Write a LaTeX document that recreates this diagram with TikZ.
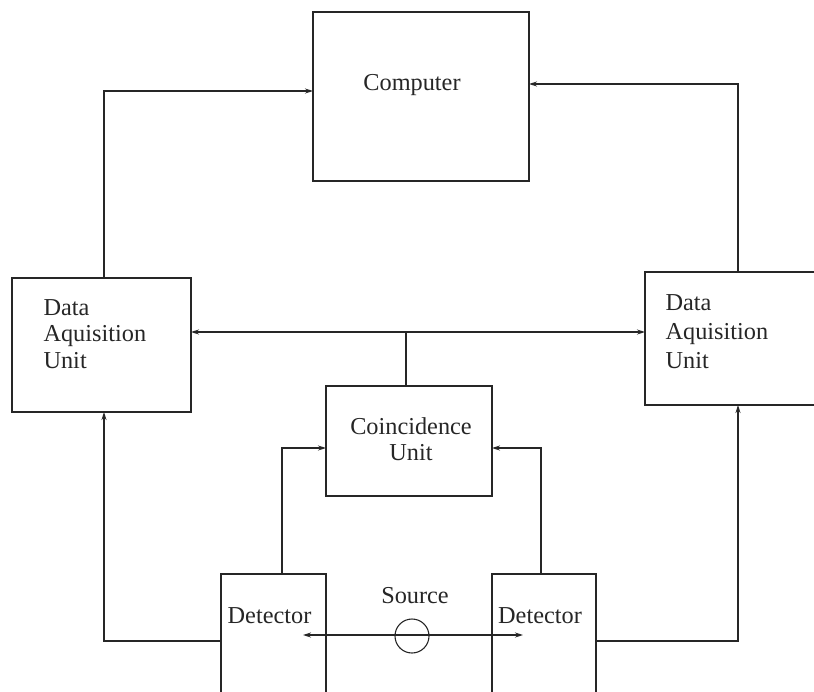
\documentclass[tikz,border=0pt]{standalone}
\usepackage{fontspec}
\setmainfont{Liberation Serif}
\usetikzlibrary{arrows.meta}

\begin{document}
\begin{tikzpicture}[x=1pt,y=-1pt,>={Stealth[length=8pt,width=5pt]},line width=1.1pt,color=black!85,
    box/.style={draw,rectangle,inner sep=0pt,outer sep=0pt},
    lbl/.style={inner sep=0pt,font=\fontsize{24.3}{26.5}\selectfont}]
        \clip (0,0) rectangle (814,691);

        % boxes
        \node[box,minimum width=216pt,minimum height=169pt] (comp)  at (421,96.5) {};
        \node[box,minimum width=179pt,minimum height=134pt] (dauL)  at (101.5,345) {};
        \node[box,minimum width=186pt,minimum height=133pt] (dauR)  at (738,338.5) {};
        \node[box,minimum width=166pt,minimum height=110pt] (coinc) at (409,441) {};
        \node[box,minimum width=105pt,minimum height=146pt] (detL)  at (273.5,647) {};
        \node[box,minimum width=104pt,minimum height=146pt] (detR)  at (544,647) {};
        \node[circle,draw,inner sep=0pt,minimum size=34pt] (src) at (412,636) {};

        % texts (base = last line)
        \node[lbl,anchor=base] (compt) at (412,90) {Computer};
        \node[lbl,anchor=base west,align=left] (dauLt) at (43,368) {Data\\Aquisition\\Unit};
        \node[lbl,anchor=base west,align=left,font=\fontsize{24.3}{29}\selectfont] (dauRt) at (665,368) {Data\\Aquisition\\Unit};
        \node[lbl,anchor=base,align=center,font=\fontsize{24.3}{26}\selectfont] (coinct) at (411,460) {Coincidence\\Unit};
        \node[lbl,anchor=base] (detLt) at (269.5,623) {Detector};
        \node[lbl,anchor=base] (detRt) at (540,623) {Detector};
        \node[lbl,anchor=base] (srct) at (415,603) {Source};

        \coordinate (bus) at (406,332);
        \coordinate (beamL) at (303,635);
        \coordinate (beamR) at (523,635);

        % connectors
        \draw[->] ([xshift=2.5pt]dauL.north) |- ([yshift=5.5pt]comp.west);
        \draw[->] (dauR.north) |- ([yshift=12.5pt]comp.east);
        \draw[<->] (dauL.east |- bus) -- (dauR.west |- bus);
        \draw (bus) -- (bus |- coinc.north);
        \draw[->] ([xshift=8.5pt]detL.north) |- ([yshift=-7pt]coinc.west);
        \draw[->] ([xshift=-3pt]detR.north) |- ([yshift=-7pt]coinc.east);
        \draw[->] ([yshift=6pt]detL.west) -| ([xshift=2.5pt]dauL.south);
        \draw[->] ([yshift=6pt]detR.east) -| (dauR.south);
        \draw[<->] (beamL) -- (beamR);
\end{tikzpicture}
\end{document}
